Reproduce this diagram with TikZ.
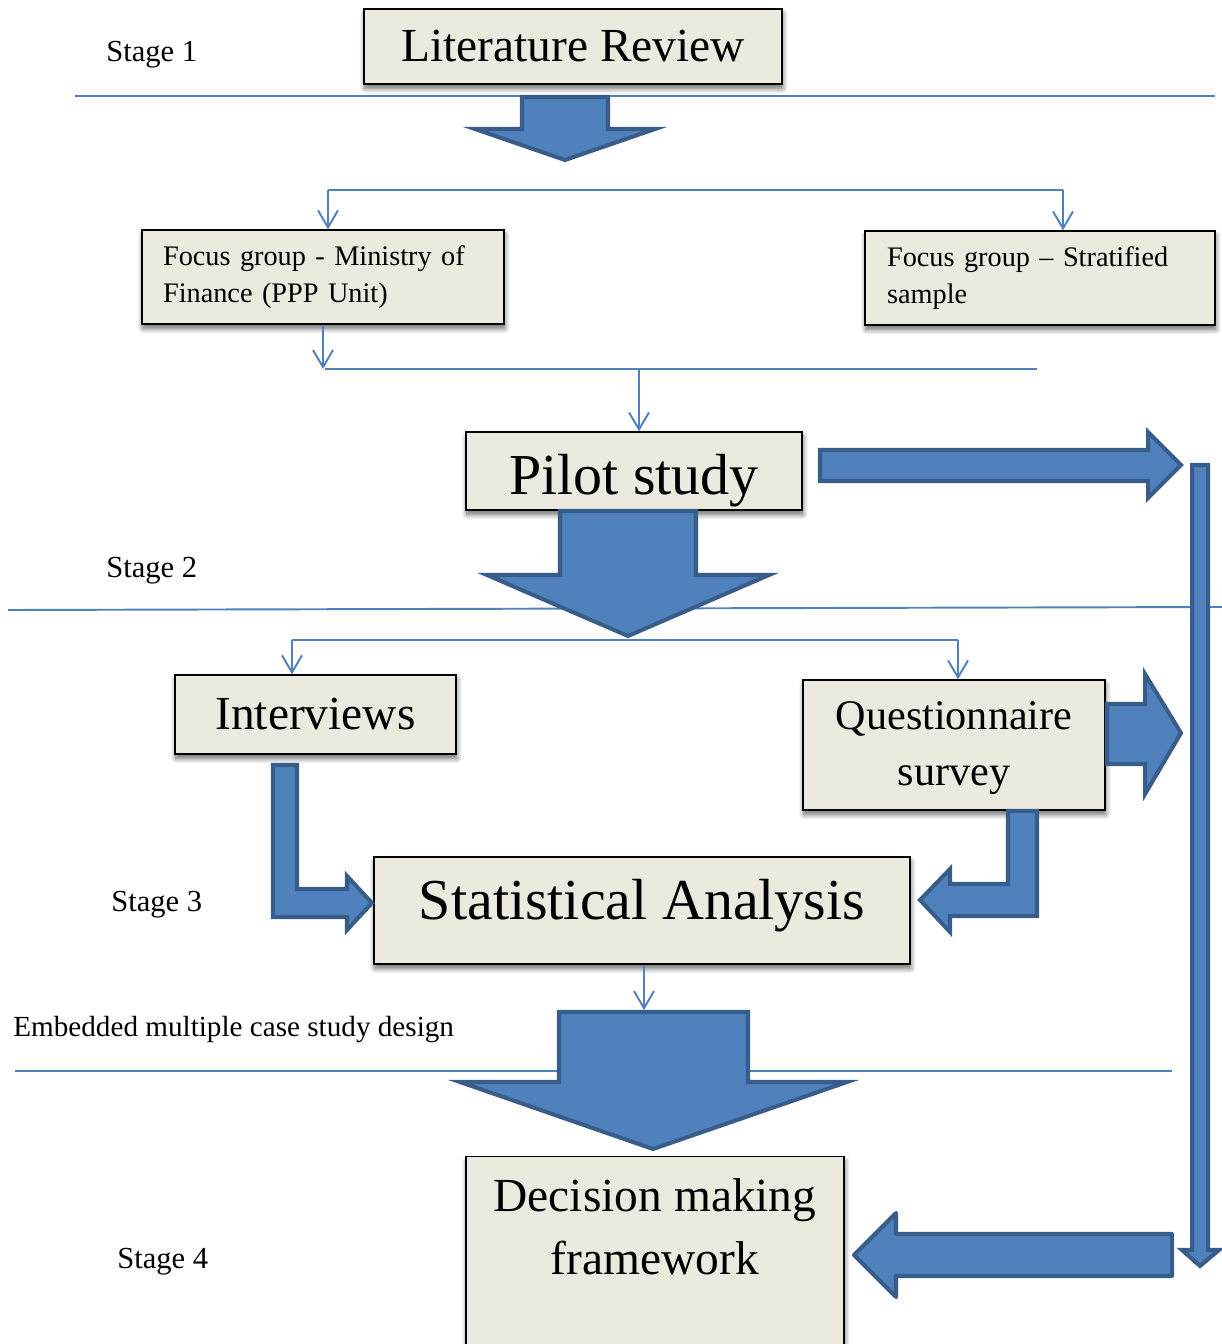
\documentclass[tikz,border=0pt]{standalone}
\usepackage{fontspec}
\setmainfont{Liberation Serif}
\usetikzlibrary{arrows.meta,shadows.blur}
\definecolor{boxfill}{RGB}{236,233,223}
\definecolor{linkblue}{RGB}{79,129,189}
\definecolor{edgeblue}{RGB}{56,93,138}

\begin{document}
\begin{tikzpicture}[x=0.02cm,y=-0.02cm,
    box/.style={draw=black,line width=0.8pt,fill=boxfill,
      blur shadow={shadow xshift=0.5pt,shadow yshift=-2.5pt,shadow blur radius=3pt,shadow blur steps=8,shadow opacity=60}},
    stagetext/.style={anchor=west,inner sep=0pt,font=\fontsize{17.4}{21}\selectfont},
    notetext/.style={anchor=west,inner sep=0pt,font=\fontsize{16.6}{20}\selectfont},
    smalltext/.style={font=\fontsize{16.1}{21.5}\selectfont,align=left},
    bigtext/.style={font=\fontsize{27}{35.7}\selectfont},
    hugetext/.style={font=\fontsize{33}{38}\selectfont},
    stageline/.style={draw=linkblue,line width=1.1pt},
    thinline/.style={draw=linkblue,line width=1.1pt},
    thinarrow/.style={thinline,-{Straight Barb[length=3.4mm,width=4mm]}},
    fatarrow/.style={fill=linkblue,draw=edgeblue,line width=2.3pt,line join=miter}]
  \useasboundingbox (0,0) rectangle (1222,1344);

  % Stage rules
  \draw[stageline] (75,96) -- (1215,96);
  \draw[stageline] (8,610) -- (1222,607);
  \draw[stageline] (15,1071) -- (1172,1071);

  % Stage labels
  \node[stagetext] (stageone) at (106,55) {Stage 1};
  \node[stagetext] (stagetwo) at (106,571) {Stage 2};
  \node[stagetext] (stagethree) at (111,905) {Stage 3};
  \node[stagetext] (stagefour) at (117,1262) {Stage 4};
  \node[notetext] (casedesign) at (13,1030) {Embedded multiple case study design};

  % Nodes
  \node[box,bigtext,minimum width=8.36cm,minimum height=1.5cm] (litreview) at (573,46.5) {Literature Review};
  \node[box,smalltext,text width=6.4cm,inner xsep=0.42cm,minimum height=1.88cm] (fgministry) at (323,277)
    {Focus group - Ministry of\\Finance (PPP Unit)};
  \node[box,smalltext,text width=6.12cm,inner xsep=0.44cm,minimum height=1.88cm] (fgstratified) at (1040,278)
    {Focus group – Stratified\\sample};
  \node[box,hugetext,minimum width=6.72cm,minimum height=1.56cm,text height=27pt,text depth=0pt] (pilot) at (634,471) {Pilot study};
  \node[box,bigtext,minimum width=5.62cm,minimum height=1.58cm] (interviews) at (315.5,714.5) {Interviews};
  \node[box,align=center,font=\fontsize{24}{31.8}\selectfont,minimum width=6.04cm,minimum height=2.6cm,text depth=1.8pt] (questionnaire) at (954,745)
    {Questionnaire\\survey};
  \node[box,hugetext,minimum width=10.72cm,minimum height=2.14cm,text depth=12.8pt] (statistics) at (642,910.5) {Statistical Analysis};
  \node[box,minimum width=7.56cm,minimum height=3.76cm,anchor=north] (decision) at (655,1156) {};
  \node[bigtext,align=center] (decisiontext) at (655,1227) {Decision making\\framework};

  % Thin connectors
  \coordinate (splitleft) at (328,190);
  \coordinate (splitright) at (1063,190);
  \draw[thinline] (splitleft) -- (splitright);
  \draw[thinarrow] (splitleft) -- (splitleft |- fgministry.north);
  \draw[thinarrow] (splitright) -- (splitright |- fgstratified.north);

  \coordinate (joinleft) at (325,369);
  \coordinate (joinright) at (1037,369);
  \coordinate (joinmid) at (639,369);
  \draw[thinarrow] (fgministry.south) -- (fgministry.south |- joinleft);
  \draw[thinline] (joinleft) -- (joinright);
  \draw[thinarrow] (joinmid) -- (joinmid |- pilot.north);

  \coordinate (forkleft) at (292,640);
  \coordinate (forkright) at (958,640);
  \draw[thinline] (forkleft) -- (forkright);
  \draw[thinarrow] (forkleft) -- (forkleft |- interviews.north);
  \draw[thinarrow] (forkright) -- (forkright |- questionnaire.north);

  \coordinate (statout) at (644,1010);
  \draw[thinarrow] (statout |- statistics.south) -- (statout);

  % Block arrows
  \draw[fatarrow] (522,97) -- (608,97) -- (608,129) -- (655,129) -- (565,160) -- (475,129) -- (522,129) -- cycle;
  \draw[fatarrow] (560,511) -- (696,511) -- (696,575) -- (769,575) -- (628,636) -- (487,575) -- (560,575) -- cycle;
  \draw[fatarrow] (559,1012) -- (748,1012) -- (748,1082) -- (847,1082) -- (653,1149) -- (460,1082) -- (559,1082) -- cycle;
  \draw[fatarrow] (820,450) -- (1148,450) -- (1148,432) -- (1181,465) -- (1148,498) -- (1148,481) -- (820,481) -- cycle;
  \draw[fatarrow] (1192,465) -- (1208,465) -- (1208,1250) -- (1219,1250) -- (1200,1266) -- (1182,1250) -- (1192,1250) -- cycle;
  \draw[fatarrow] (1107,704) -- (1145,704) -- (1145,674) -- (1181,733) -- (1145,794) -- (1145,764) -- (1107,764) -- cycle;
  \draw[fatarrow] (273,765) -- (297,765) -- (297,889) -- (347,889) -- (347,876) -- (372,903) -- (347,930) -- (347,917) -- (273,917) -- cycle;
  \draw[fatarrow] (1037,811) -- (1037,916) -- (950,916) -- (950,932) -- (920,900) -- (950,869) -- (950,884) -- (1008,884) -- (1008,811) -- cycle;
  \draw[fatarrow,line join=round] (1172,1234) -- (1172,1276) -- (896,1276) -- (896,1297) -- (854,1255) -- (896,1213) -- (896,1234) -- cycle;

\end{tikzpicture}
\end{document}
